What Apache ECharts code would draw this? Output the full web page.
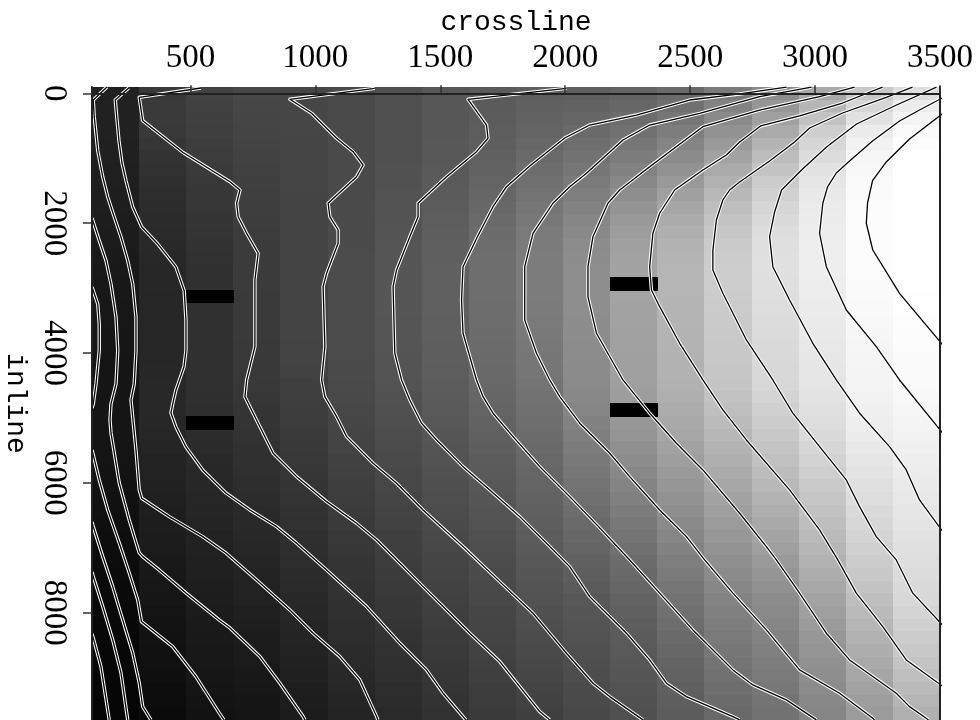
<!DOCTYPE html>
<html><head><meta charset="utf-8">
<script src="https://cdn.jsdelivr.net/npm/echarts@6/dist/echarts.min.js"></script>
<style>html,body{margin:0;padding:0;background:#fff;}#chart{width:980px;height:720px;}</style>
</head><body><div id="chart"></div>
<script>
// ---- data ----
const crosslines = [200.3, 388.8, 577.4, 766.0, 954.5, 1143.1, 1331.6, 1520.2, 1708.8, 1897.3, 2085.9, 2274.4, 2463.0, 2651.6, 2840.1, 3028.7, 3217.2, 3405.8];
const inlines = [0,195,390,585,780,975,1170,1365,1560,1755,1950,2145,2340,2535,2730,2925,3120,3315,3510,3705,3900,4095,4290,4485,4680,4875,5070,5265,5460,5655,5850,6045,6240,6435,6630,6825,7020,7215,7410,7605,7800,7995,8190,8385,8580,8775,8970,9165,9360,9555];
// amplitude per cell (rows = inlines, columns = crosslines), 0 = black, 255 = white
const grayRows = [
[32,56,66,71,70,74,80,87,90,94,95,99,106,122,140,168,200,222],
[33,58,65,70,70,74,80,87,91,96,98,103,112,130,150,182,214,236],
[33,58,64,69,70,74,80,87,92,98,102,108,118,138,160,194,226,244],
[33,57,63,68,70,74,80,87,93,100,106,113,125,146,170,206,236,250],
[32,54,61,67,69,74,80,88,94,103,110,118,132,154,180,214,242,253],
[32,51,60,66,69,74,80,88,96,106,114,124,139,162,188,220,246,255],
[31,49,58,65,69,74,81,89,98,109,118,130,146,170,196,226,248,255],
[31,47,56,64,69,74,81,90,100,112,122,136,153,177,203,230,250,255],
[30,45,55,63,68,74,82,91,102,115,126,142,160,184,209,233,251,255],
[30,44,54,62,68,75,82,92,104,118,130,148,166,190,214,235,252,255],
[29,43,53,61,68,75,83,93,106,120,134,153,171,195,218,236,252,255],
[28,42,52,60,68,75,84,94,108,122,137,157,175,199,221,237,252,255],
[27,41,50,59,68,75,85,95,109,123,140,160,178,202,223,238,252,255],
[26,40,49,59,68,76,85,95,110,124,141,162,180,204,224,238,252,255],
[25,39,48,59,68,76,86,96,110,124,142,163,181,205,224,238,252,255],
[24,39,48,59,68,76,86,96,110,124,142,163,181,205,223,237,251,255],
[24,38,48,58,68,76,86,96,110,124,142,163,181,204,222,236,250,254],
[23,38,48,58,68,76,86,96,109,123,142,162,180,203,221,235,249,254],
[23,38,48,58,68,76,85,95,109,122,141,162,180,202,220,234,248,253],
[22,38,48,58,68,76,85,95,108,121,141,161,179,201,219,233,247,252],
[22,38,48,57,67,76,85,94,107,120,140,161,179,200,218,232,246,252],
[21,38,48,57,67,75,84,94,106,119,140,160,178,199,217,231,245,251],
[21,39,48,57,66,75,84,93,105,118,139,160,178,198,216,230,244,250],
[21,40,48,56,64,74,83,92,104,116,138,159,177,197,215,229,244,250],
[21,40,47,55,63,73,81,91,102,114,136,157,175,194,212,227,242,248],
[21,40,46,53,61,71,80,89,100,112,133,154,172,191,208,224,240,246],
[21,39,45,52,60,70,78,88,98,110,130,151,169,187,204,221,238,244],
[21,38,44,51,58,68,77,86,96,108,127,148,166,183,200,218,236,242],
[20,37,43,49,57,67,75,84,94,106,124,144,162,179,196,214,233,240],
[20,35,41,48,56,65,74,83,92,104,121,140,158,175,192,210,230,238],
[19,34,40,47,54,64,72,81,90,102,118,136,154,171,188,206,227,236],
[18,33,39,45,53,62,71,79,88,100,115,132,150,167,184,202,224,234],
[17,32,38,44,52,61,69,78,86,98,112,128,146,163,179,198,221,232],
[16,30,37,42,50,59,67,76,84,96,109,124,142,159,174,194,218,230],
[15,29,36,41,49,58,66,74,82,94,106,120,138,155,169,190,215,228],
[14,28,34,40,47,56,64,73,80,92,103,116,134,151,164,186,212,226],
[13,27,33,38,46,55,63,71,78,90,100,112,130,147,159,182,208,224],
[12,25,32,37,45,53,61,69,76,88,97,108,126,143,154,178,204,222],
[11,24,31,35,43,52,59,68,75,86,94,105,122,139,149,173,200,220],
[10,23,30,34,42,50,58,66,73,84,91,102,118,135,144,168,196,218],
[10,22,29,33,40,49,56,64,72,82,88,99,115,131,140,163,190,216],
[9,20,28,31,39,48,55,63,70,80,86,96,112,128,137,159,186,212],
[8,19,26,30,37,46,53,61,69,78,84,93,109,125,134,155,182,208],
[8,18,25,28,36,45,51,59,67,76,82,91,106,122,131,151,178,204],
[7,17,24,27,35,43,50,58,66,74,80,89,103,119,128,148,174,200],
[7,16,23,26,33,42,48,56,64,72,78,87,100,116,125,145,170,196],
[6,15,22,24,32,40,47,54,63,70,77,85,98,113,122,142,166,191],
[6,13,21,23,30,39,45,53,61,68,75,83,96,110,119,139,162,186],
[5,12,19,21,29,37,44,51,60,66,74,81,94,107,116,136,158,181],
[5,11,18,20,28,36,42,50,58,64,72,80,92,104,114,133,155,176]
];
// black marker cells [crossline, inline]
const markerCells = [[577.4,3120],[577.4,5070],[2274.4,2925],[2274.4,4875]];
const xTickValues = [500,1000,1500,2000,2500,3000,3500];
const yTickValues = [0,2000,4000,6000,8000];
// contour lines [crossline, inline]
const contourN4 = [[106,8327],[111,8388],[142,8835],[175,9651]];
const contourN3 = [[106,7372],[111,7444],[149,7906],[189,8419],[222,8927],[249,9651]];
const contourN2 = [[106,6602],[111,6674],[149,7136],[189,7598],[229,8111],[269,8619],[295,9081],[309,9446],[342,9651]];
const contourN1 = [[106,5493],[111,5570],[135,5955],[169,6417],[215,6925],[255,7387],[289,7803],[304,8137],[429,8522],[522,8984],[615,9543],[634,9651]];
const contourA = [[106,2982],[111,3040],[129,3244],[135,3552],[135,3963],[122,4476],[111,4784],[106,4846]];
const contourB = [[106,1920],[111,1981],[135,2269],[162,2577],[182,2937],[202,3445],[209,3963],[202,4476],[182,4784],[178,5031],[182,5231],[215,6001],[255,6571],[295,7079],[309,7136],[375,7341],[482,7695],[615,8111],[658,8234],[778,8676],[858,9086],[951,9600],[958,9651]];
const contourC = [[166,-97],[111,103],[115,364],[129,884],[149,1288],[169,1596],[195,1904],[222,2213],[249,2577],[269,2937],[282,3445],[282,3963],[275,4476],[262,4723],[282,5493],[295,6109],[305,6237],[415,6520],[549,6828],[642,7079],[765,7495],[898,7957],[991,8316],[1098,8676],[1178,9035],[1245,9600],[1250,9651]];
const contourD = [[253,-82],[199,103],[205,364],[214,730],[226,1073],[242,1345],[269,1750],[305,2058],[369,2320],[442,2674],[475,3040],[482,3491],[482,3963],[474,4214],[442,4569],[429,4784],[422,4923],[442,5138],[482,5447],[549,5801],[642,6155],[738,6417],[845,6674],[925,6929],[1045,7341],[1205,7906],[1338,8470],[1445,8881],[1511,9240],[1591,9600],[1602,9651]];
const contourE = [[542,-82],[295,61],[309,421],[469,908],[658,1361],[698,1489],[685,1693],[691,1900],[725,2156],[771,2464],[758,2875],[758,3902],[725,4415],[718,4672],[751,4927],[831,5544],[925,5904],[1045,6289],[1165,6622],[1245,6879],[1338,7238],[1431,7598],[1525,7957],[1618,8316],[1738,8753],[1818,9138],[1898,9523],[1938,9651]];
const contourF = [[1238,-77],[898,92],[985,308],[1085,692],[1151,899],[1191,1104],[1165,1284],[1051,1693],[1058,1900],[1091,2105],[1091,2310],[1045,2772],[1031,2978],[1038,3902],[1025,4415],[1038,4672],[1085,4980],[1125,5288],[1231,5698],[1325,6006],[1431,6417],[1591,6982],[1738,7521],[1871,8008],[2005,8624],[2111,9086],[2178,9292],[2311,9651]];
const contourG = [[2005,-77],[1611,92],[1685,488],[1691,692],[1645,899],[1525,1284],[1411,1693],[1411,1900],[1378,2208],[1325,2721],[1311,2978],[1318,4004],[1345,4415],[1378,4723],[1425,5081],[1485,5339],[1591,5750],[1698,6109],[1818,6520],[1925,6929],[2018,7290],[2098,7752],[2245,8316],[2338,8727],[2405,9086],[2485,9292],[2671,9600],[2698,9651]];
const contourH = [[2886,-97],[2698,10],[2498,103],[2285,334],[2098,488],[1998,688],[1858,1119],[1765,1438],[1711,1746],[1650,2197],[1591,2670],[1585,3183],[1591,3696],[1645,4415],[1671,4672],[1711,4927],[1791,5288],[1898,5750],[2018,6212],[2138,6694],[2258,7187],[2378,7699],[2511,8265],[2671,8881],[2751,9112],[2885,9343],[3005,9651]];
const contourI = [[2986,-97],[2778,52],[2538,308],[2338,488],[2231,719],[2085,1232],[2018,1438],[1951,1693],[1871,2156],[1838,2670],[1838,3491],[1885,4004],[1938,4415],[1978,4672],[2058,5081],[2178,5544],[2258,5904],[2378,6417],[2485,6828],[2558,7187],[2671,7699],[2805,8265],[2938,8881],[3098,9240],[3231,9625],[3238,9651]];
const contourJ = [[3158,-97],[3018,52],[2778,257],[2551,514],[2471,745],[2338,1130],[2218,1489],[2171,1693],[2111,2208],[2091,2670],[2091,3132],[2125,3696],[2231,4415],[2338,4927],[2445,5389],[2551,5801],[2698,6468],[2805,6982],[2845,7187],[2938,7699],[3045,8316],[3138,8727],[3325,9240],[3378,9446],[3445,9625],[3454,9651]];
const contourK = [[3270,-97],[3110,149],[2938,349],[2782,503],[2698,750],[2645,950],[2551,1181],[2438,1489],[2378,1847],[2351,2156],[2338,2670],[2345,3029],[2378,3286],[2458,3850],[2551,4415],[2631,4877],[2725,5339],[2898,6109],[3018,6725],[3091,7187],[3165,7699],[3271,8214],[3365,8727],[3510,9130]];
const contourL = [[3390,-97],[3285,61],[3110,303],[2978,534],[2918,750],[2818,1042],[2698,1365],[2658,1489],[2631,1643],[2605,1951],[2591,2413],[2591,2721],[2631,3080],[2725,3799],[2831,4415],[2911,4927],[3018,5442],[3125,5955],[3178,6366],[3245,6828],[3325,7187],[3391,7699],[3510,8190]];
const contourM = [[3486,-97],[3326,180],[3166,472],[3046,826],[2950,1165],[2866,1489],[2838,1827],[2818,2208],[2831,2670],[2898,3183],[2991,3850],[3085,4415],[3178,4927],[3298,5442],[3365,5801],[3418,6263],[3510,6745]];
const contourN = [[3510,70],[3418,257],[3338,426],[3230,734],[3138,1042],[3085,1227],[3050,1442],[3031,1693],[3018,2156],[3045,2670],[3125,3337],[3245,3902],[3338,4415],[3510,5230]];
const contourO = [[3510,315],[3378,703],[3285,1057],[3230,1345],[3210,1689],[3205,2001],[3231,2413],[3338,3080],[3510,3870]];

const contours = [contourN4, contourN3, contourN2, contourN1, contourA, contourB, contourC, contourD, contourE, contourF, contourG, contourH, contourI, contourJ, contourK, contourL, contourM, contourN, contourO];

// ---- chart ----
const cellW = 188.56, cellH = 195;
const cellData = [];
grayRows.forEach((row, r) => row.forEach((v, c) => cellData.push([crosslines[c], inlines[r], v])));
markerCells.forEach(m => cellData.push([m[0], m[1], 0]));

function renderCell(params, api) {
  const x = api.value(0), y = api.value(1), v = Math.round(api.value(2));
  const p1 = api.coord([x - cellW / 2, y - cellH / 2]);
  const p2 = api.coord([x + cellW / 2, y + cellH / 2]);
  const x0 = Math.round(Math.min(p1[0], p2[0])), x1 = Math.round(Math.max(p1[0], p2[0]));
  const y0 = Math.round(Math.min(p1[1], p2[1])), y1 = Math.round(Math.max(p1[1], p2[1]));
  return { type: 'rect', shape: { x: x0, y: y0, width: x1 - x0 + 1, height: y1 - y0 + 1 },
           style: { fill: 'rgb(' + v + ',' + v + ',' + v + ')' } };
}

const series = [{
  type: 'custom', renderItem: renderCell, data: cellData, clip: true, z: 1,
  encode: { x: 0, y: 1 }, silent: true
}];
contours.forEach(c => series.push({ type: 'line', data: c, showSymbol: false, silent: true, z: 3,
  lineStyle: { color: '#ffffff', width: 3.4, join: 'round' } }));
contours.forEach(c => series.push({ type: 'line', data: c, showSymbol: false, silent: true, z: 4,
  lineStyle: { color: '#000000', width: 1.3, join: 'round' } }));

const plain = v => String(v);
const chart = echarts.init(document.getElementById('chart'), null, { renderer: 'canvas' });
chart.setOption({
  animation: false,
  backgroundColor: '#ffffff',
  grid: { left: 92, right: 40, top: 87, bottom: 0, containLabel: false, outerBoundsMode: 'none' },
  xAxis: {
    type: 'value', position: 'top', min: 106, max: 3500, z: 10,
    name: 'crossline', nameLocation: 'middle', nameGap: 50,
    nameTextStyle: { fontFamily: 'Liberation Mono', fontSize: 28, color: '#000' },
    axisLine: { show: true, lineStyle: { color: '#222', width: 2 } },
    axisTick: { show: true, customValues: xTickValues, length: 8, lineStyle: { color: '#333', width: 1.5 } },
    axisLabel: { customValues: xTickValues, formatter: plain, fontFamily: 'Liberation Serif', fontSize: 33, color: '#000', margin: 12 },
    splitLine: { show: false }
  },
  yAxis: [{
    type: 'value', inverse: true, min: -97.5, max: 9652.5, z: 10,
    name: 'inline', nameLocation: 'middle', nameGap: 56, nameRotate: -90,
    nameTextStyle: { fontFamily: 'Liberation Mono', fontSize: 28, color: '#000' },
    axisLine: { show: true, lineStyle: { color: '#222', width: 2 } },
    axisTick: { show: true, customValues: yTickValues, length: 9, lineStyle: { color: '#333', width: 1.5 } },
    axisLabel: { customValues: yTickValues, formatter: plain, rotate: -90, fontFamily: 'Liberation Serif', fontSize: 33, color: '#000', margin: 22 },
    splitLine: { show: false }
  }, {
    type: 'value', inverse: true, min: -97.5, max: 9652.5, position: 'right', z: 10,
    axisLine: { show: true, lineStyle: { color: '#222', width: 2 } },
    axisTick: { show: false }, axisLabel: { show: false }, splitLine: { show: false }
  }],
  series: series
});
</script></body></html>
